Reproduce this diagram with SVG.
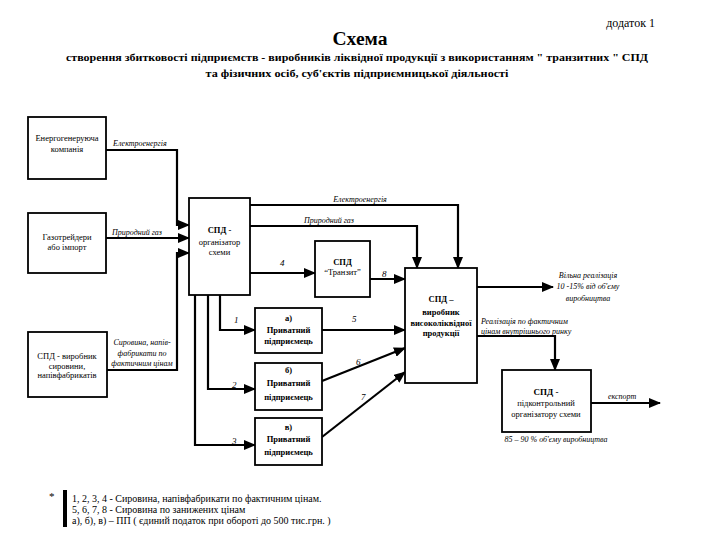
<svg xmlns="http://www.w3.org/2000/svg" width="720" height="540" viewBox="0 0 720 540">
<style>
text{font-family:"Liberation Serif","Times New Roman",serif;fill:#000}
.t{font-size:8.5px;text-anchor:middle}
.b{font-weight:bold}
.i{font-style:italic;font-size:8px}
.n{font-style:italic;font-size:9px}
.box{fill:#fff;stroke:#000;stroke-width:1.8}
.c{fill:none;stroke:#000;stroke-width:2.2}
.a{marker-end:url(#ah)}
.lg{font-size:10px}
</style>
<defs>
<marker id="ah" markerUnits="userSpaceOnUse" markerWidth="12" markerHeight="10" refX="11" refY="5" orient="auto">
<path d="M0,0 L12,5 L0,10 z" fill="#000"/>
</marker>
</defs>
<rect width="720" height="540" fill="#fff"/>
<g id="title">
<text x="655" y="27" style="font-size:12px;text-anchor:end">додаток 1</text>
<text x="360" y="45" class="b" style="font-size:18px;text-anchor:middle" textLength="55" lengthAdjust="spacingAndGlyphs">Схема</text>
<text x="357" y="61" class="b" style="font-size:11px;text-anchor:middle" textLength="582" lengthAdjust="spacingAndGlyphs">створення  збитковості підприємств - виробників ліквідної продукції з використанням " транзитних " СПД</text>
<text x="357" y="77" class="b" style="font-size:11px;text-anchor:middle" textLength="303" lengthAdjust="spacingAndGlyphs">та фізичних осіб, суб'єктів підприємницької діяльності</text>
</g>
<g id="connectors">
<path class="c a" d="M106,150 H177 V225 H189"/>
<path class="c a" d="M106,238 H189"/>
<path class="c a" d="M107,370 H177 V253 H189"/>
<path class="c a" d="M250,205 H458 V268"/>
<path class="c a" d="M250,226 H417 V268"/>
<path class="c a" d="M250,273 H315"/>
<path class="c a" d="M370,279 H405"/>
<path class="c a" d="M220,295 V330 H255"/>
<path class="c a" d="M208,295 V389 H255"/>
<path class="c a" d="M195,295 V445 H255"/>
<path class="c a" d="M322,330 H405"/>
<path class="c a" d="M322,381 L405,348"/>
<path class="c a" d="M322,437 L405,372"/>
<path class="c a" d="M477,287 H553"/>
<path class="c a" d="M477,336 H555 V370"/>
<path class="c a" d="M591,403 H660"/>
<text x="113" y="146" class="i">Електроенергія</text>
<text x="112" y="235" class="i">Природний газ</text>
<text x="142" y="345" class="i" style="text-anchor:middle">Сировина, напів-</text>
<text x="142" y="356" class="i" style="text-anchor:middle">фабрикати по</text>
<text x="142" y="366" class="i" style="text-anchor:middle">фактичним цінам</text>
<text x="360" y="202" class="i" style="text-anchor:middle">Електроенергія</text>
<text x="329" y="223" class="i" style="text-anchor:middle">Природний газ</text>
<text x="280" y="266" class="n">4</text>
<text x="382" y="277" class="n">8</text>
<text x="234" y="323" class="n">1</text>
<text x="232" y="388" class="n">2</text>
<text x="232" y="444" class="n">3</text>
<text x="352" y="322" class="n">5</text>
<text x="356" y="365" class="n">6</text>
<text x="361" y="400" class="n">7</text>
<text x="588" y="278" class="i" style="text-anchor:middle">Вільна реалізація</text>
<text x="588" y="289" class="i" style="text-anchor:middle">10 -15% від об'єму</text>
<text x="588" y="301" class="i" style="text-anchor:middle">виробництва</text>
<text x="481" y="324" class="i">Реалізація по фактичним</text>
<text x="481" y="334" class="i">цінам внутрішнього ринку</text>
<text x="608" y="399" class="i">експорт</text>
<text x="556" y="442" class="i" style="text-anchor:middle">85 – 90 % об'єму виробництва</text>
</g>
<g id="energy">
<rect class="box" x="28" y="117" width="78" height="62"/>
<text x="67" y="141" class="t">Енергогенеруюча</text>
<text x="67" y="152" class="t">компанія</text>
</g>
<g id="gas">
<rect class="box" x="28" y="213" width="78" height="60"/>
<text x="67" y="240" class="t">Газотрейдери</text>
<text x="67" y="250" class="t">або імпорт</text>
</g>
<g id="raw">
<rect class="box" x="28" y="332" width="79" height="65"/>
<text x="67" y="359" class="t">СПД - виробник</text>
<text x="67" y="369" class="t">сировини,</text>
<text x="67" y="378" class="t">напівфабрикатів</text>
</g>
<g id="organizer">
<rect class="box" x="189" y="198" width="61" height="97"/>
<text x="219.5" y="233" class="t b">СПД -</text>
<text x="219.5" y="245" class="t">організатор</text>
<text x="219.5" y="255" class="t">схеми</text>
</g>
<g id="transit">
<rect class="box" x="315" y="241" width="55" height="56"/>
<text x="342.5" y="265" class="t b">СПД</text>
<text x="342.5" y="275" class="t">“Транзит”</text>
</g>
<g id="pp-a">
<rect class="box" x="255" y="308" width="67" height="45"/>
<text x="288.5" y="321" class="t b">а)</text>
<text x="288.5" y="333" class="t b">Приватний</text>
<text x="288.5" y="344" class="t b">підприємець</text>
</g>
<g id="pp-b">
<rect class="box" x="255" y="363" width="67" height="47"/>
<text x="288.5" y="373" class="t b">б)</text>
<text x="288.5" y="386" class="t b">Приватний</text>
<text x="288.5" y="400" class="t b">підприємець</text>
</g>
<g id="pp-v">
<rect class="box" x="255" y="418" width="67" height="47"/>
<text x="288.5" y="430" class="t b">в)</text>
<text x="288.5" y="442" class="t b">Приватний</text>
<text x="288.5" y="455" class="t b">підприємець</text>
</g>
<g id="producer">
<rect class="box" x="405" y="268" width="72" height="115"/>
<text x="441" y="302" class="t b">СПД –</text>
<text x="441" y="315" class="t b">виробник</text>
<text x="441" y="326" class="t b">високоліквідної</text>
<text x="441" y="336" class="t b">продукції</text>
</g>
<g id="controlled">
<rect class="box" x="502" y="370" width="89" height="62"/>
<text x="546" y="395" class="t b" style="font-size:9px">СПД -</text>
<text x="546" y="406" class="t">підконтрольний</text>
<text x="546" y="417" class="t">організатору схеми</text>
</g>
<g id="legend">
<text x="49" y="500" style="font-size:11px">*</text>
<rect x="63" y="490" width="4" height="37" fill="#000"/>
<text x="72" y="502" class="lg">1, 2, 3, 4 - Сировина, напівфабрикати по фактичним цінам.</text>
<text x="72" y="513" class="lg">5, 6, 7, 8 - Сировина по занижених цінам</text>
<text x="72" y="524" class="lg">а), б), в) – ПП ( єдиний податок при обороті до 500 тис.грн. )</text>
</g>
</svg>
